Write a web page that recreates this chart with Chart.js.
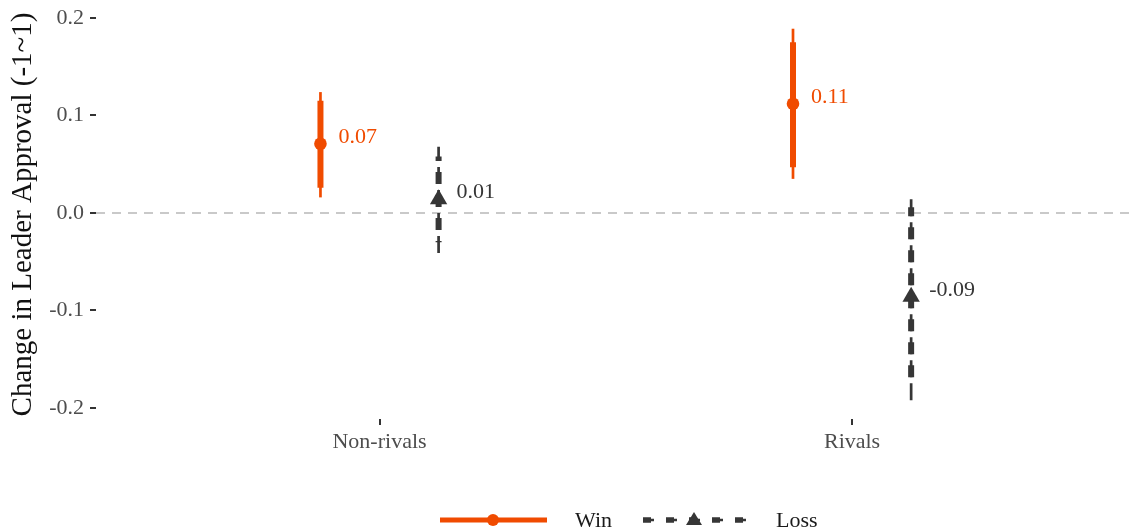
<!DOCTYPE html>
<html>
<head>
<meta charset="utf-8">
<script src="https://cdn.jsdelivr.net/npm/chart.js@4.4.1/dist/chart.umd.min.js"></script>
<style>
  html, body { margin: 0; padding: 0; background: #fff; }
</style>
</head>
<body>
<canvas id="chart" width="1130" height="532"></canvas>
<script>
const categories = ['Non-rivals', 'Rivals'];
const seriesNames = ['Win', 'Loss'];
const yTicks = [-0.2, -0.1, 0.0, 0.1, 0.2];

// point estimates, inner (thick) and outer (thin) intervals
const winEst = [0.071, 0.112];
const winLo90 = [0.026, 0.047];
const winHi90 = [0.115, 0.175];
const winLo95 = [0.016, 0.035];
const winHi95 = [0.124, 0.189];

const lossEst = [0.014, -0.086];
const lossLo90 = [-0.030, -0.178];
const lossHi90 = [0.058, 0.006];
const lossLo95 = [-0.041, -0.192];
const lossHi95 = [0.068, 0.020];

const ORANGE = '#f04b00';
const DARK = '#363636';
const SERIF = "'Liberation Serif', 'Times New Roman', serif";
const dodge = 0.125;

const series = [
    { name: seriesNames[0], est: winEst, lo90: winLo90, hi90: winHi90, lo95: winLo95, hi95: winHi95,
      color: ORANGE, offset: -dodge, thinDash: [], thickDash: [], marker: 'circle', radius: 6.3 },
    { name: seriesNames[1], est: lossEst, lo90: lossLo90, hi90: lossHi90, lo95: lossLo95, hi95: lossHi95,
      color: DARK, offset: dodge, thinDash: [17, 6], thickDash: [12, 11], marker: 'triangle', radius: 10 }
];

function drawMarker(ctx, type, x, y, color) {
    ctx.save();
    ctx.fillStyle = color;
    ctx.beginPath();
    if (type === 'circle') {
        ctx.arc(x, y, 6, 0, Math.PI * 2);
    } else {
        ctx.moveTo(x, y - 8);
        ctx.lineTo(x + 8, y + 5);
        ctx.lineTo(x - 8, y + 5);
        ctx.closePath();
    }
    ctx.fill();
    ctx.restore();
}

function seg(ctx, x1, y1, x2, y2, width, dash, color) {
    ctx.save();
    ctx.strokeStyle = color;
    ctx.lineWidth = width;
    ctx.setLineDash(dash);
    ctx.beginPath();
    ctx.moveTo(x1, y1);
    ctx.lineTo(x2, y2);
    ctx.stroke();
    ctx.restore();
}

const intervalPlugin = {
    id: 'intervals',
    beforeDatasetsDraw(chart) {
        const ctx = chart.ctx;
        const xs = chart.scales.x, ys = chart.scales.y;
        const zeroY = ys.getPixelForValue(0);
        // reference line at zero
        seg(ctx, chart.chartArea.left, zeroY, chart.width, zeroY, 2, [9, 7], '#c9c9c9');

        series.forEach(s => {
            s.est.forEach((v, i) => {
                const x = xs.getPixelForValue(i + 1 + s.offset);
                const yLo95 = ys.getPixelForValue(s.lo95[i]);
                const yHi95 = ys.getPixelForValue(s.hi95[i]);
                const yLo90 = ys.getPixelForValue(s.lo90[i]);
                const yHi90 = ys.getPixelForValue(s.hi90[i]);
                seg(ctx, x, yLo95, x, yHi95, 2.7, s.thinDash, s.color);
                // thick part: same dash phase as the thin line, clipped to the inner interval
                ctx.save();
                ctx.beginPath();
                ctx.rect(x - 10, yHi90, 20, yLo90 - yHi90);
                ctx.clip();
                seg(ctx, x, yLo95, x, yHi95, 6, s.thickDash, s.color);
                ctx.restore();
            });
        });
    },
    afterDatasetsDraw(chart) {
        const ctx = chart.ctx;
        const xs = chart.scales.x, ys = chart.scales.y;
        ctx.save();
        ctx.font = '22px ' + SERIF;
        ctx.textBaseline = 'middle';
        ctx.textAlign = 'left';
        series.forEach(s => {
            ctx.fillStyle = s.color;
            s.est.forEach((v, i) => {
                const x = xs.getPixelForValue(i + 1 + s.offset);
                ctx.fillText(v.toFixed(2), x + 18, ys.getPixelForValue(v) - 7);
            });
        });
        ctx.restore();
    },
    afterDraw(chart) {
        // legend at the bottom
        const ctx = chart.ctx;
        const y = 520;
        let x = chart.chartArea.left + 344;
        ctx.save();
        ctx.font = '22px ' + SERIF;
        ctx.textBaseline = 'middle';
        ctx.textAlign = 'left';
        series.forEach(s => {
            if (s.thinDash.length) {
                seg(ctx, x + 2, y, x + 107, y, 2.5, [11, 12], s.color);
                seg(ctx, x + 2, y, x + 107, y, 5.5, [8, 15], s.color);
            } else {
                seg(ctx, x, y, x + 107, y, 5, [], s.color);
            }
            drawMarker(ctx, s.marker, x + 53, y, s.color);
            ctx.fillStyle = '#1a1a1a';
            ctx.fillText(s.name, x + 135, y + 1);
            x += 201;
        });
        ctx.restore();
    }
};

new Chart(document.getElementById('chart'), {
    type: 'scatter',
    data: {
        datasets: series.map(s => ({
            label: s.name,
            data: s.est.map((v, i) => ({ x: i + 1 + s.offset, y: v })),
            pointStyle: s.marker,
            radius: s.radius,
            backgroundColor: s.color,
            borderColor: s.color,
            borderWidth: 0
        }))
    },
    options: {
        responsive: false,
        animation: false,
        events: [],
        layout: { padding: { top: 10, bottom: 68, left: 0, right: 0 } },
        plugins: { legend: { display: false }, tooltip: { enabled: false } },
        scales: {
            x: {
                type: 'linear',
                min: 0.4,
                max: 2.567,
                afterBuildTicks: scale => { scale.ticks = categories.map((c, i) => ({ value: i + 1 })); },
                afterFit: scale => { scale.height = 45; },
                grid: { drawOnChartArea: false, drawTicks: true, tickLength: 6, color: '#333', lineWidth: 2 },
                border: { display: false },
                ticks: {
                    callback: v => categories[v - 1],
                    color: '#4d4d4d',
                    font: { family: SERIF, size: 22 },
                    padding: 4,
                    maxRotation: 0
                }
            },
            y: {
                min: -0.2113,
                max: 0.2082,
                afterBuildTicks: scale => { scale.ticks = yTicks.map(v => ({ value: v })); },
                afterFit: scale => {
                    scale.width = 96;
                    scale.paddingTop = 0;
                    scale.paddingBottom = 0;
                },
                grid: { drawOnChartArea: false, drawTicks: true, tickLength: 6, color: '#333', lineWidth: 2 },
                border: { display: false },
                ticks: {
                    callback: v => v.toFixed(1),
                    color: '#4d4d4d',
                    font: { family: SERIF, size: 22 },
                    padding: 6
                },
                title: {
                    display: true,
                    text: 'Change in Leader Approval (-1~1)',
                    color: '#111',
                    font: { family: SERIF, size: 29 },
                    padding: { top: 6, bottom: 0 }
                }
            }
        }
    },
    plugins: [intervalPlugin]
});
</script>
</body>
</html>
